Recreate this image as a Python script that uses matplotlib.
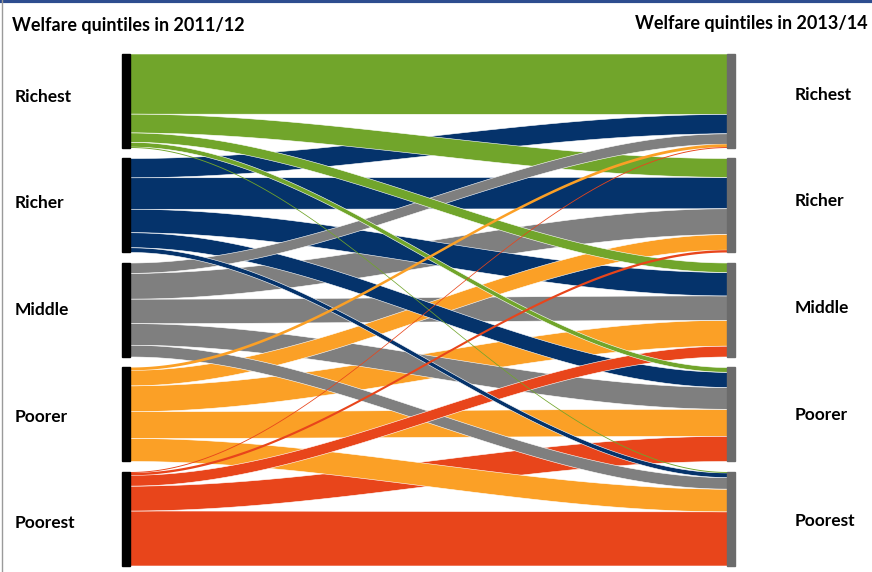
import numpy as np
import matplotlib.pyplot as plt

# ============================================
# Data: transition between welfare quintiles (% of origin quintile)
# ============================================

quintiles = ["Richest", "Richer", "Middle", "Poorer", "Poorest"]
colors = ["#71a52b", "#05336b", "#7f7f7f", "#fba026", "#e8451b"]

# rows = 2011/12 quintile, columns = 2013/14 quintile
from_richest = [64, 20, 10, 5, 1]
from_richer = [20.5, 33.5, 25, 16, 5]
from_middle = [11, 27.5, 26, 23, 12.5]
from_poorer = [3, 16.5, 27.5, 28.5, 24.5]
from_poorest = [1, 2.5, 11.5, 26.5, 58.5]

flows = np.array([from_richest, from_richer, from_middle, from_poorer, from_poorest])

left_title = "Welfare quintiles in 2011/12"
right_title = "Welfare quintiles in 2013/14"

# ============================================
# Layout (in pixel-like units)
# ============================================

W, H = 872, 572
top = 53.5
unit = 0.94
node_h = 100 * unit
gap = 10.5
x_left, x_right = 130, 727
bar_w = 8
label_step = 106.5

node_tops = [top + i * (node_h + gap) for i in range(5)]

fig = plt.figure(figsize=(W / 100, H / 100), dpi=100)
ax = fig.add_axes([0, 0, 1, 1])
ax.set_xlim(0, W)
ax.set_ylim(H, 0)
ax.axis("off")

# positions of each flow on both sides
left_pos = {}
for i in range(5):
    y = node_tops[i]
    for j in range(5):
        left_pos[(i, j)] = (y, y + flows[i, j] * unit)
        y += flows[i, j] * unit

right_pos = {}
for j in range(5):
    col = flows[:, j]
    scale = node_h / col.sum()
    y = node_tops[j]
    for i in range(5):
        right_pos[(i, j)] = (y, y + col[i] * scale)
        y += col[i] * scale

# draw bigger flows first so the thin ones stay visible
order = sorted([(i, j) for i in range(5) for j in range(5)], key=lambda k: -flows[k])

t = np.linspace(0, 1, 200)
s = 3 * t**2 - 2 * t**3
xs = x_left + (x_right - x_left) * t

for (i, j) in order:
    a0, b0 = left_pos[(i, j)]
    a1, b1 = right_pos[(i, j)]
    y_top = a0 + (a1 - a0) * s
    y_bot = b0 + (b1 - b0) * s
    lw = 0.4 if flows[i, j] >= 4 else 0
    ax.fill_between(xs, y_top, y_bot, facecolor=colors[i], edgecolor="white",
                    linewidth=lw, zorder=2)

# node bars
for k in range(5):
    ax.add_patch(plt.Rectangle((x_left - bar_w, node_tops[k]), bar_w, node_h, color="black", zorder=3))
    ax.add_patch(plt.Rectangle((x_right, node_tops[k]), bar_w, node_h, color="#6b6b6b", zorder=3))

# labels
font = dict(family=["Lato", "DejaVu Sans"], fontweight="bold", fontsize=12.5, color="black")
for k, name in enumerate(quintiles):
    ax.text(15, 97 + k * label_step, name, ha="left", va="center", **font)
    ax.text(795, 95 + k * label_step, name, ha="left", va="center", **font)

ax.text(12, 26, left_title, ha="left", va="center", family=["Lato", "DejaVu Sans"],
        fontweight="bold", fontsize=13)
ax.text(868, 23, right_title, ha="right", va="center", family=["Lato", "DejaVu Sans"],
        fontweight="bold", fontsize=13)

# frame lines
ax.plot([0, W], [1, 1], color="#2e4d8f", linewidth=3, zorder=5)
ax.plot([1.5, 1.5], [0, H], color="#9a9a9a", linewidth=1, zorder=5)

fig.savefig("out.png", dpi=100)
